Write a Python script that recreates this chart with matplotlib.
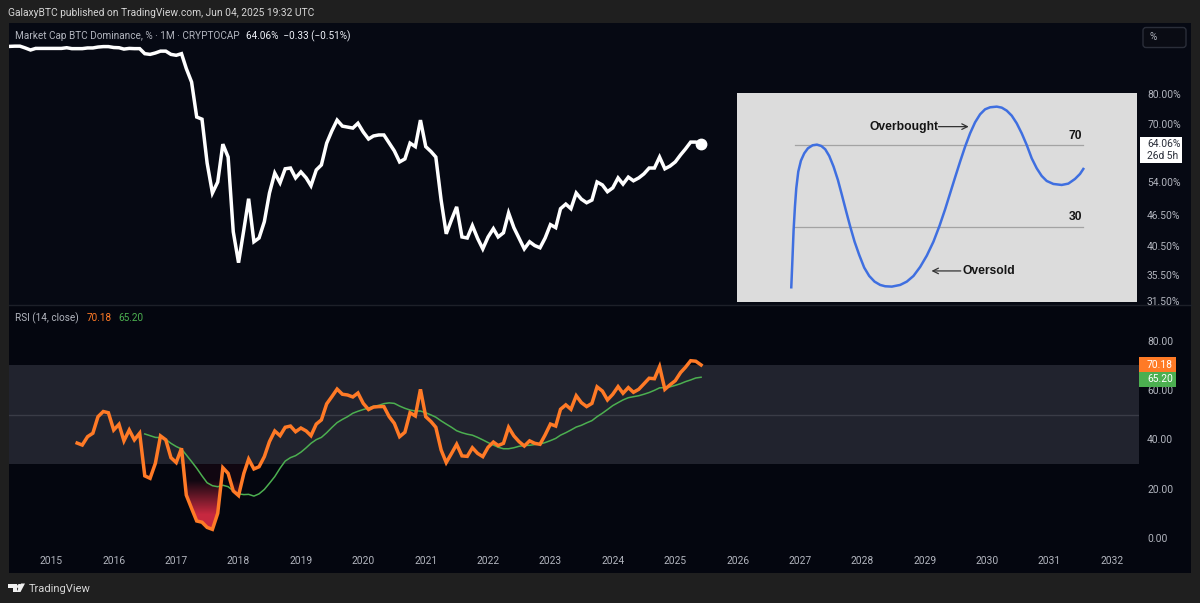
import numpy as np
import pandas as pd
import matplotlib
matplotlib.use("Agg")
import matplotlib.pyplot as plt
import matplotlib.dates as mdates
from matplotlib.patches import Rectangle, FancyBboxPatch, Polygon
from matplotlib.path import Path
from matplotlib.ticker import NullLocator
from matplotlib.transforms import Bbox

plt.rcParams["font.family"] = ["Roboto", "DejaVu Sans"]

# monthly values
dominance = [
    99.2, 99.3, 99.3, 98.5, 97.6, 98.3, 98.3, 98.3, 98.3, 98.3, 98.3, 98.6, 98.2, 98.2, 98.2,
    98.5, 98.5, 98.9, 99.1, 99.1, 98.7, 98.6, 98.0, 98.3, 98.2, 98.2, 96.0, 95.7, 96.3, 97.1,
    97.1, 95.7, 95.3, 96.0, 89.8, 84.5, 72.2, 71.5, 58.7, 51.3, 53.9, 63.9, 60.3, 43.1, 37.5,
    43.5, 50.0, 41.2, 41.9, 45.1, 51.3, 56.1, 53.7, 57.2, 57.4, 54.9, 56.4, 54.9, 53.0, 56.9,
    58.2, 64.2, 67.8, 71.2, 69.3, 69.0, 68.7, 70.2, 67.5, 65.4, 66.3, 66.6, 66.6, 64.2, 62.0,
    59.0, 59.8, 64.2, 63.2, 71.2, 63.2, 61.8, 60.3, 49.7, 42.7, 45.5, 48.2, 42.1, 41.9, 44.3,
    41.8, 39.9, 42.1, 43.7, 42.1, 42.9, 46.9, 43.9, 41.9, 39.9, 41.2, 40.5, 40.1, 41.9, 44.5,
    43.9, 47.8, 48.8, 47.8, 51.3, 49.9, 49.1, 49.7, 53.9, 53.2, 51.6, 52.5, 54.9, 53.4, 55.1,
    54.2, 54.9, 55.9, 57.4, 57.4, 60.3, 57.2, 57.9, 59.0, 60.9, 62.5, 64.5, 64.5, 64.06,
]
rsi = [
    38.5, 37.7, 41.1, 42.5, 49.2, 51.3, 50.8, 43.8, 46.1, 39.4, 43.8, 39.8, 42.5, 25.2, 24.2,
    30.3, 41.4, 39.8, 32.6, 30.6, 36.4, 17.4, 12.0, 6.9, 6.4, 4.3, 3.5, 10.0, 28.5, 26.2,
    19.1, 17.2, 26.2, 32.0, 28.0, 28.9, 33.0, 39.1, 43.4, 41.5, 44.9, 45.4, 43.1, 44.6, 43.4,
    41.5, 46.2, 47.9, 54.4, 57.3, 60.4, 58.3, 58.0, 57.2, 58.8, 54.6, 52.1, 53.1, 53.3, 53.3,
    49.2, 46.5, 41.1, 42.9, 50.8, 49.5, 60.3, 49.2, 47.2, 44.9, 35.7, 30.6, 34.3, 38.0, 33.3,
    33.1, 36.6, 34.3, 33.0, 36.8, 38.9, 37.5, 38.4, 44.9, 41.4, 39.1, 37.3, 39.4, 38.4, 38.0,
    41.8, 46.2, 45.4, 52.2, 54.0, 52.2, 57.7, 54.9, 53.3, 54.6, 61.3, 59.6, 56.0, 58.3, 61.4,
    58.7, 61.0, 59.1, 60.3, 62.5, 64.8, 64.6, 69.5, 60.3, 62.1, 63.8, 67.1, 69.2, 71.9, 71.7,
    70.18,
]
rsi_ma = [
    42.2, 41.5, 40.8, 40.7, 40.0, 38.4, 37.1, 36.1, 33.7, 31.0, 28.3, 25.2, 22.4, 21.2, 20.8,
    21.4, 20.8, 19.1, 17.9, 17.6, 17.7, 17.0, 17.9, 19.7, 22.2, 24.9, 28.3, 31.2, 32.6, 33.4,
    34.8, 36.6, 38.4, 39.9, 40.8, 42.7, 44.8, 46.8, 48.1, 49.2, 50.6, 51.4, 52.1, 52.7, 53.4,
    53.8, 54.5, 54.8, 54.6, 53.5, 52.6, 51.9, 51.5, 51.5, 50.8, 49.9, 49.0, 47.5, 46.2, 44.9,
    43.5, 42.7, 42.1, 41.7, 40.8, 39.8, 38.7, 37.7, 36.8, 36.2, 36.2, 36.6, 37.2, 37.5, 37.6,
    37.9, 38.1, 38.7, 39.5, 40.4, 41.7, 42.7, 43.8, 45.0, 45.7, 46.7, 47.6, 49.2, 50.6, 52.1,
    53.7, 54.9, 56.0, 56.9, 57.3, 57.7, 58.3, 59.0, 59.9, 60.9, 61.0, 61.3, 61.9, 62.6, 63.4,
    64.1, 64.9, 65.2,
]
years = list(range(2015, 2033))
price_ticks = [80, 70, 54, 46.5, 40.5, 35.5, 31.5]
rsi_ticks = [0, 20, 40, 60, 80]

# sketch in the inset, in its own picture coordinates
sketch_x = [183, 186, 190, 194, 198, 204, 212, 222, 233, 247, 260, 273, 285, 297, 310, 323, 335, 348,
            360, 373, 387, 402, 417, 433, 450, 465, 485, 510, 530, 550, 570, 590, 610, 628, 645,
            660, 675, 690, 705, 720, 735, 750, 765, 780, 800, 815, 830, 845, 860, 875, 890, 905,
            920, 935, 950, 970, 995, 1015, 1035, 1050, 1060]
sketch_y = [802, 730, 630, 560, 505, 455, 422, 400, 385, 376, 374, 378, 388, 408, 440, 480, 525, 575,
            620, 665, 705, 743, 768, 785, 795, 799, 800, 795, 785, 768, 741, 707, 665, 618, 568,
            520, 472, 425, 380, 340, 307, 283, 268, 262, 260, 263, 272, 287, 310, 340, 375, 415,
            445, 468, 483, 492, 495, 491, 477, 462, 447]

dates = pd.date_range("2014-05-01", periods=len(dominance), freq="MS")
rsi_dates = dates[-len(rsi):]
ma_dates = dates[-len(rsi_ma):]
rsi_arr = np.array(rsi)

W, H = 1200, 603
OUTER = "#1f1f1f"
PANE = "#060913"
PANE2 = "#04060f"
GREY = "#b2b5be"
ORANGE = "#ff7a26"
GREEN = "#4caf50"
LABEL = 7.4


def rect(x0, y0, x1, y1):
    return [x0 / W, 1 - y1 / H, (x1 - x0) / W, (y1 - y0) / H]


fig = plt.figure(figsize=(12, 6.03), dpi=100, facecolor=OUTER)

# backgrounds
bg = fig.add_axes([0, 0, 1, 1], zorder=0)
bg.set_xlim(0, W)
bg.set_ylim(H, 0)
bg.axis("off")
bg.add_patch(Rectangle((9, 23), 1182, 282, fc=PANE, ec="none"))
bg.add_patch(Rectangle((9, 305), 1182, 268, fc=PANE2, ec="none"))
bg.plot([9, 1191], [305, 305], color="#1d2029", lw=1)

xlim = (mdates.date2num(pd.Timestamp("2014-04-28")), mdates.date2num(pd.Timestamp("2032-06-08")))

# price pane
ax = fig.add_axes(rect(9, 23, 1139, 305), zorder=1)
ax.patch.set_alpha(0)
ax.plot(dates, dominance, color="white", lw=2.5, solid_joinstyle="miter")
ax.plot(dates[-1], dominance[-1], "o", color="white", ms=7.5)
ax.set_yscale("log")
ax.set_ylim(31.0, 110.2)
ax.set_xlim(xlim)
ax.set_xticks([])
ax.yaxis.tick_right()
ax.yaxis.set_major_locator(plt.FixedLocator(price_ticks))
ax.yaxis.set_minor_locator(NullLocator())
ax.set_yticklabels(["%.2f%%" % t for t in price_ticks], fontsize=LABEL, color=GREY)
ax.tick_params(axis="y", length=0, pad=5.8)
clip_box = Bbox([[0, 1 - 305 / H], [1, 1]]).transformed(fig.transFigure)
for lab in ax.get_yticklabels():
    lab.set_clip_box(clip_box)
    lab.set_clip_on(True)
for s in ax.spines.values():
    s.set_visible(False)

# rsi pane
ax2 = fig.add_axes(rect(9, 305, 1139, 552), zorder=1)
ax2.patch.set_alpha(0)
ax2.axhspan(30, 70, color="#21232e", lw=0, zorder=1)
ax2.axhline(50, color="#3a3c47", lw=1, zorder=1.5)

under = ax2.fill_between(rsi_dates, rsi_arr, 30, where=rsi_arr < 30, interpolate=True, color="none")
shade = np.array([[[0.78, 0.16, 0.25, 1.0]], [[0.07, 0.03, 0.07, 1.0]]])
im = ax2.imshow(shade, extent=[xlim[0], xlim[1], 3, 30], aspect="auto", origin="lower",
                interpolation="bilinear", zorder=2)
im.set_clip_path(Path.make_compound_path(*under.get_paths()), transform=ax2.transData)

ax2.plot(ma_dates, rsi_ma, color=GREEN, lw=1.1, zorder=3)
ax2.plot(rsi_dates, rsi, color=ORANGE, lw=2.5, solid_joinstyle="miter", zorder=4)
ax2.set_xlim(xlim)
ax2.set_ylim(-5.68, 94.5)
ax2.yaxis.tick_right()
ax2.set_yticks(rsi_ticks)
ax2.set_yticklabels(["%.2f" % t for t in rsi_ticks], fontsize=LABEL, color=GREY)
ax2.set_xticks([mdates.date2num(pd.Timestamp(year=y, month=1, day=1)) for y in years])
ax2.set_xticklabels([str(y) for y in years], fontsize=LABEL, color=GREY)
ax2.tick_params(axis="both", length=0)
ax2.tick_params(axis="y", pad=5.8)
ax2.tick_params(axis="x", pad=3.2)
for s in ax2.spines.values():
    s.set_visible(False)

# the pasted rsi sketch
ins = fig.add_axes(rect(737, 93.3, 1136.6, 301.6), zorder=2)
ins.set_xlim(20, 1220)
ins.set_ylim(845, 220)
ins.set_xticks([])
ins.set_yticks([])
ins.set_facecolor("#dcdcdc")
for s in ins.spines.values():
    s.set_visible(False)
ins.plot([193, 1060], [376, 376], color="#a3a3a3", lw=0.9)
ins.plot([193, 1060], [620, 620], color="#a3a3a3", lw=0.9)
ins.plot(sketch_x, sketch_y, color="#3f6fe0", lw=1.8, solid_joinstyle="round")
ink = "#151515"
bold = dict(fontsize=8.7, fontweight="bold", color=ink, family="Liberation Sans", va="center")
ins.text(417, 320, "Overbought", **bold)
ins.text(698, 753, "Oversold", **bold)
ins.text(1057, 349, "70", ha="right", **bold)
ins.text(1057, 592, "30", ha="right", **bold)
ins.annotate("", xy=(716, 320), xytext=(625, 320),
             arrowprops=dict(arrowstyle="->", color="#333333", lw=0.9, shrinkA=0, shrinkB=0))
ins.annotate("", xy=(604, 753), xytext=(692, 753),
             arrowprops=dict(arrowstyle="->", color="#333333", lw=0.9, shrinkA=0, shrinkB=0))

# header, legends, price labels, footer
px = fig.add_axes([0, 0, 1, 1], zorder=5)
px.set_xlim(0, W)
px.set_ylim(H, 0)
px.axis("off")
px.patch.set_alpha(0)

px.text(8, 13, "GalaxyBTC published on TradingView.com, Jun 04, 2025 19:32 UTC", fontsize=7.38,
        color="#d6d6d6", va="center")
px.text(15, 36, "Market Cap BTC Dominance, % · 1M · CRYPTOCAP", fontsize=7.2, color=GREY, va="center")
px.text(246, 36, "64.06%  −0.33 (−0.51%)", fontsize=7.2, color="#f0f3fa", va="center")
px.text(15, 318, "RSI (14, close)", fontsize=7.2, color=GREY, va="center")
px.text(87, 318, "70.18", fontsize=7.2, color=ORANGE, va="center")
px.text(118, 318, "65.20", fontsize=7.2, color=GREEN, va="center")

px.add_patch(FancyBboxPatch((1143, 27.5), 43, 20, boxstyle="round,pad=0,rounding_size=3",
                            fc="#0a0c14", ec="#2a2e39", lw=1))
px.text(1150, 37, "%", fontsize=7.2, color=GREY, va="center")

px.add_patch(Rectangle((1139.5, 136.5), 42.5, 26.5, fc="white", ec="none"))
px.text(1147, 144, "64.06%", fontsize=LABEL, color="#2a2e39", va="center")
px.text(1147, 156, "26d 5h", fontsize=LABEL, color="#2a2e39", va="center")

px.add_patch(Rectangle((1139, 357), 37, 15, fc=ORANGE, ec="none"))
px.add_patch(Rectangle((1139, 372), 37, 15, fc=GREEN, ec="none"))
px.text(1147, 364.5, "70.18", fontsize=LABEL, color="white", va="center")
px.text(1147, 379.5, "65.20", fontsize=LABEL, color="white", va="center")

# tradingview logo
logo = "#f0f0f0"
px.add_patch(Polygon([(8, 583.5), (17, 583.5), (17, 592), (13, 592), (13, 587.5), (8, 587.5)], fc=logo, ec="none"))
px.add_patch(Polygon([(21, 583.5), (25, 583.5), (20.5, 592), (16.5, 592)], fc=logo, ec="none"))
px.plot([18.6], [585.6], "o", color=logo, ms=2.6)
px.text(28.5, 588.5, "TradingView", fontsize=8.0, color="#d6d6d6", va="center")

fig.savefig("out.png", dpi=100, facecolor=OUTER)
